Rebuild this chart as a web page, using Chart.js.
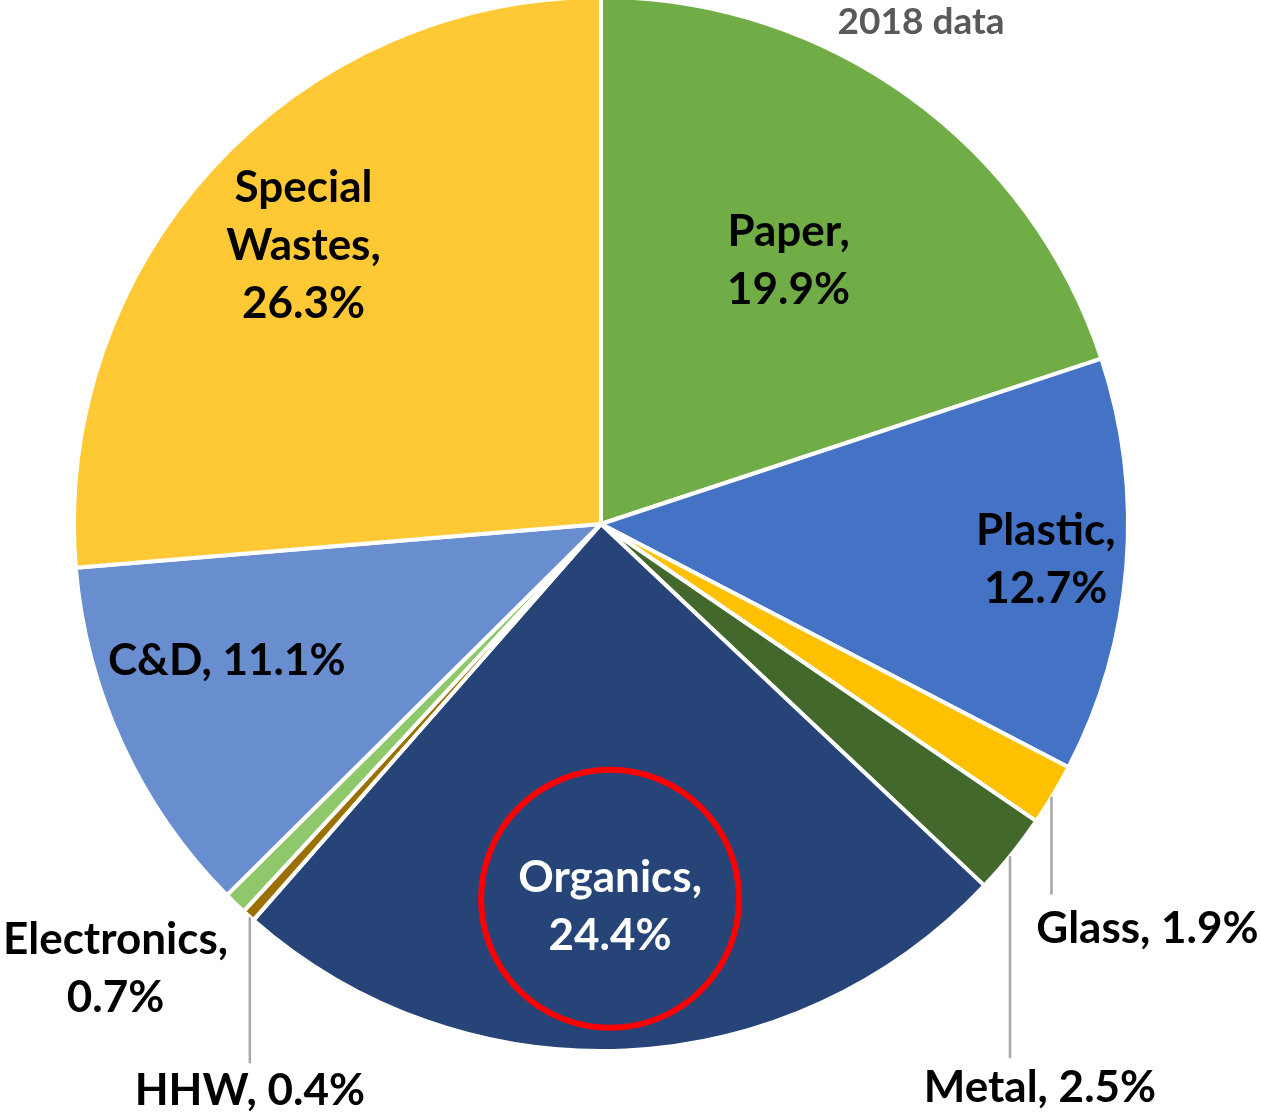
<!DOCTYPE html>
<html>
<head>
<meta charset="utf-8">
<script src="https://cdn.jsdelivr.net/npm/chart.js@4"></script>
<style>
  body { margin: 0; background: #fff; }
  #wrap { width: 1261px; height: 1112px; position: relative; }
</style>
</head>
<body>
<div id="wrap"><canvas id="grafico"></canvas></div>
<script>
// datos del gráfico (2018)
const categorias = ['Paper', 'Plastic', 'Glass', 'Metal', 'Organics', 'HHW', 'Electronics', 'C&D', 'Special Wastes'];
const porcentajes = [19.9, 12.7, 1.9, 2.5, 24.4, 0.4, 0.7, 11.1, 26.3];
const colores = ['#70AD47', '#4472C4', '#FFC000', '#43682B', '#264478', '#9C7000', '#8FC86A', '#698ED0', '#FFC936'];
const etiquetas = [
    ['Paper,', '19.9%'],
    ['Plastic,', '12.7%'],
    ['Glass, 1.9%'],
    ['Metal, 2.5%'],
    ['Organics,', '24.4%'],
    ['HHW, 0.4%'],
    ['Electronics,', '0.7%'],
    ['C&D, 11.1%'],
    ['Special', 'Wastes,', '26.3%']
];
const subtitulo = '2018 data';

// posicion de cada etiqueta respecto a su porcion
const layoutEtiquetas = [
    { tipo: 'dentro', frac: 0.61, dx: 0, dy: -4 },
    { tipo: 'dentro', frac: 0.85, dx: 0, dy: 0 },
    { tipo: 'linea', gap: 3, largo: 98, dx: 96, dy: 34 },
    { tipo: 'linea', gap: 3, largo: 202, dx: 30, dy: 30 },
    { tipo: 'dentro', frac: 0.73, dx: -9, dy: 0, blanco: true, circulo: 129 },
    { tipo: 'linea', gap: 3, largo: 146, dx: 0, dy: 28 },
    { tipo: 'fuera', dx: -121, dy: 67 },
    { tipo: 'dentro', frac: 0.76, dx: -12, dy: -30 },
    { tipo: 'dentro', frac: 0.77, dx: 0, dy: -4 }
];

const FUENTE = 'Lato, "Open Sans", sans-serif';
const ALTO_LINEA = 58;

const etiquetasPlugin = {
    id: 'etiquetasPastel',
    afterDraw: (chart) => {
        const ctx = chart.ctx;
        const meta = chart.getDatasetMeta(0);
        ctx.save();
        ctx.textAlign = 'center';
        ctx.textBaseline = 'middle';
        meta.data.forEach((arc, i) => {
            const p = arc.getProps(['x', 'y', 'startAngle', 'endAngle', 'outerRadius'], true);
            const medio = (p.startAngle + p.endAngle) / 2;
            const cfg = layoutEtiquetas[i];
            const r = p.outerRadius - 2;
            let lx, ly;
            if (cfg.tipo === 'dentro') {
                lx = p.x + Math.cos(medio) * r * cfg.frac + cfg.dx;
                ly = p.y + Math.sin(medio) * r * cfg.frac + cfg.dy;
            } else if (cfg.tipo === 'linea') {
                const x0 = p.x + Math.cos(medio) * r;
                const y0 = p.y + Math.sin(medio) * r + cfg.gap;
                ctx.strokeStyle = '#A6A6A6';
                ctx.lineWidth = 2.5;
                ctx.beginPath();
                ctx.moveTo(x0, y0);
                ctx.lineTo(x0, y0 + cfg.largo);
                ctx.stroke();
                lx = x0 + cfg.dx;
                ly = y0 + cfg.largo + cfg.dy;
            } else {
                lx = p.x + Math.cos(medio) * r + cfg.dx;
                ly = p.y + Math.sin(medio) * r + cfg.dy;
            }
            if (cfg.circulo) {
                ctx.strokeStyle = '#FF0000';
                ctx.lineWidth = 6;
                ctx.beginPath();
                ctx.arc(lx, ly - 8, cfg.circulo, 0, Math.PI * 2);
                ctx.stroke();
            }
            const lineas = etiquetas[i];
            ctx.fillStyle = cfg.blanco ? '#FFFFFF' : '#000000';
            ctx.font = 'bold 44px ' + FUENTE;
            const y0 = ly - (lineas.length - 1) * ALTO_LINEA / 2;
            lineas.forEach((t, j) => ctx.fillText(t, lx, y0 + j * ALTO_LINEA));
        });
        // subtitulo
        ctx.fillStyle = '#595959';
        ctx.font = 'bold 37px ' + FUENTE;
        ctx.fillText(subtitulo, 921, 22);
        ctx.restore();
    }
};

new Chart(document.getElementById('grafico'), {
    type: 'pie',
    data: {
        labels: categorias,
        datasets: [{
            data: porcentajes,
            backgroundColor: colores,
            borderColor: '#FFFFFF',
            borderWidth: 4
        }]
    },
    options: {
        responsive: true,
        maintainAspectRatio: false,
        animation: false,
        radius: 527,
        layout: { padding: { left: 77, right: 136, top: 0, bottom: 64 } },
        plugins: {
            legend: { display: false },
            tooltip: { enabled: false }
        }
    },
    plugins: [etiquetasPlugin]
});
</script>
</body>
</html>
